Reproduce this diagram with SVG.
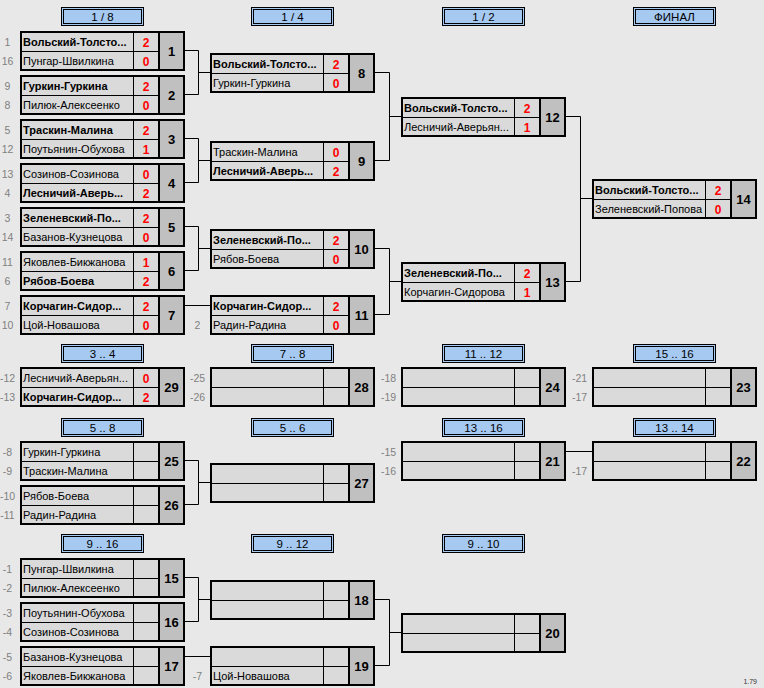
<svg xmlns="http://www.w3.org/2000/svg" xmlns:xlink="http://www.w3.org/1999/xlink" width="764" height="688" viewBox="0 0 764 688">
<style>
text{font-family:"Liberation Sans",Arial,sans-serif}
.n{font-size:11px;fill:#000}
.b{font-weight:bold}
.s{font-size:12px;font-weight:bold;fill:#ff0000;text-anchor:middle}
.m{font-size:13px;font-weight:bold;fill:#000;text-anchor:middle}
.l{font-size:10.5px;fill:#808080;text-anchor:middle}
.h{font-size:11.5px;fill:#000;text-anchor:middle}
.c{fill:none;stroke:#000;stroke-width:1}
</style>
<defs>
<g id="bx">
<rect x="1" y="1" width="163" height="38" fill="#dadada" stroke="#000" stroke-width="2"/>
<rect x="140" y="2" width="23" height="36" fill="#c0c0c0"/>
<line x1="139" y1="1" x2="139" y2="39" stroke="#000" stroke-width="2"/>
<line x1="113.5" y1="2" x2="113.5" y2="38" stroke="#000" stroke-width="1"/>
<line x1="2" y1="20.5" x2="138" y2="20.5" stroke="#000" stroke-width="1"/>
</g>
<g id="hd">
<rect x="0.5" y="0.5" width="82" height="18" fill="#a6c9f2" stroke="#000" stroke-width="1"/>
<rect x="2.5" y="2.5" width="78" height="14" fill="none" stroke="#000" stroke-width="1"/>
</g>
</defs>
<rect width="764" height="688" fill="#e8e8e8"/>

<g id="headers">
<g transform="translate(61,7)"><use xlink:href="#hd"/><text class="h" x="41.5" y="13.5">1 / 8</text></g>
<g transform="translate(251,7)"><use xlink:href="#hd"/><text class="h" x="41.5" y="13.5">1 / 4</text></g>
<g transform="translate(442,7)"><use xlink:href="#hd"/><text class="h" x="41.5" y="13.5">1 / 2</text></g>
<g transform="translate(633,7)"><use xlink:href="#hd"/><text class="h" x="41.5" y="13.5">ФИНАЛ</text></g>
<g transform="translate(61,344)"><use xlink:href="#hd"/><text class="h" x="41.5" y="13.5">3 .. 4</text></g>
<g transform="translate(251,344)"><use xlink:href="#hd"/><text class="h" x="41.5" y="13.5">7 .. 8</text></g>
<g transform="translate(442,344)"><use xlink:href="#hd"/><text class="h" x="41.5" y="13.5">11 .. 12</text></g>
<g transform="translate(633,344)"><use xlink:href="#hd"/><text class="h" x="41.5" y="13.5">15 .. 16</text></g>
<g transform="translate(61,418)"><use xlink:href="#hd"/><text class="h" x="41.5" y="13.5">5 .. 8</text></g>
<g transform="translate(251,418)"><use xlink:href="#hd"/><text class="h" x="41.5" y="13.5">5 .. 6</text></g>
<g transform="translate(442,418)"><use xlink:href="#hd"/><text class="h" x="41.5" y="13.5">13 .. 16</text></g>
<g transform="translate(633,418)"><use xlink:href="#hd"/><text class="h" x="41.5" y="13.5">13 .. 14</text></g>
<g transform="translate(61,534)"><use xlink:href="#hd"/><text class="h" x="41.5" y="13.5">9 .. 16</text></g>
<g transform="translate(251,534)"><use xlink:href="#hd"/><text class="h" x="41.5" y="13.5">9 .. 12</text></g>
<g transform="translate(442,534)"><use xlink:href="#hd"/><text class="h" x="41.5" y="13.5">9 .. 10</text></g>
</g>

<g id="connectors">
<path class="c" d="M185 50.5H198.5V94.5H185M198.5 72.5H210"/>
<path class="c" d="M185 138.5H198.5V182.5H185M198.5 160.5H210"/>
<path class="c" d="M185 226.5H198.5V270.5H185M198.5 248.5H210"/>
<path class="c" d="M185 305.5H210"/>
<path class="c" d="M375 72.5H389.5V160.5H375M389.5 116.5H401"/>
<path class="c" d="M375 248.5H389.5V314.5H375M389.5 281.5H401"/>
<path class="c" d="M566 116.5H580.5V281.5H566M580.5 198.5H592"/>
<path class="c" d="M185 460.5H198.5V504.5H185M198.5 482.5H210"/>
<path class="c" d="M566 451.5H592"/>
<path class="c" d="M185 577.5H198.5V621.5H185M198.5 599.5H210"/>
<path class="c" d="M185 656.5H210"/>
<path class="c" d="M375 599.5H389.5V665.5H375M389.5 632.5H401"/>
</g>

<g id="m1" transform="translate(20,31)"><use xlink:href="#bx"/>
<text class="l" x="-12.5" y="15">1</text><text class="l" x="-12.5" y="34">16</text>
<text class="n b" x="3" y="15">Вольский-Толсто...</text><text class="s" x="126" y="15.5">2</text>
<text class="n" x="3" y="34">Пунгар-Швилкина</text><text class="s" x="126" y="34.5">0</text>
<text class="m" x="151.5" y="25">1</text></g>

<g id="m2" transform="translate(20,75)"><use xlink:href="#bx"/>
<text class="l" x="-12.5" y="15">9</text><text class="l" x="-12.5" y="34">8</text>
<text class="n b" x="3" y="15">Гуркин-Гуркина</text><text class="s" x="126" y="15.5">2</text>
<text class="n" x="3" y="34">Пилюк-Алексеенко</text><text class="s" x="126" y="34.5">0</text>
<text class="m" x="151.5" y="25">2</text></g>

<g id="m3" transform="translate(20,119)"><use xlink:href="#bx"/>
<text class="l" x="-12.5" y="15">5</text><text class="l" x="-12.5" y="34">12</text>
<text class="n b" x="3" y="15">Траскин-Малина</text><text class="s" x="126" y="15.5">2</text>
<text class="n" x="3" y="34">Поутьянин-Обухова</text><text class="s" x="126" y="34.5">1</text>
<text class="m" x="151.5" y="25">3</text></g>

<g id="m4" transform="translate(20,163)"><use xlink:href="#bx"/>
<text class="l" x="-12.5" y="15">13</text><text class="l" x="-12.5" y="34">4</text>
<text class="n" x="3" y="15">Созинов-Созинова</text><text class="s" x="126" y="15.5">0</text>
<text class="n b" x="3" y="34">Лесничий-Аверь...</text><text class="s" x="126" y="34.5">2</text>
<text class="m" x="151.5" y="25">4</text></g>

<g id="m5" transform="translate(20,207)"><use xlink:href="#bx"/>
<text class="l" x="-12.5" y="15">3</text><text class="l" x="-12.5" y="34">14</text>
<text class="n b" x="3" y="15">Зеленевский-По...</text><text class="s" x="126" y="15.5">2</text>
<text class="n" x="3" y="34">Базанов-Кузнецова</text><text class="s" x="126" y="34.5">0</text>
<text class="m" x="151.5" y="25">5</text></g>

<g id="m6" transform="translate(20,251)"><use xlink:href="#bx"/>
<text class="l" x="-12.5" y="15">11</text><text class="l" x="-12.5" y="34">6</text>
<text class="n" x="3" y="15">Яковлев-Бикжанова</text><text class="s" x="126" y="15.5">1</text>
<text class="n b" x="3" y="34">Рябов-Боева</text><text class="s" x="126" y="34.5">2</text>
<text class="m" x="151.5" y="25">6</text></g>

<g id="m7" transform="translate(20,295)"><use xlink:href="#bx"/>
<text class="l" x="-12.5" y="15">7</text><text class="l" x="-12.5" y="34">10</text>
<text class="n b" x="3" y="15">Корчагин-Сидор...</text><text class="s" x="126" y="15.5">2</text>
<text class="n" x="3" y="34">Цой-Новашова</text><text class="s" x="126" y="34.5">0</text>
<text class="m" x="151.5" y="25">7</text></g>

<g id="m8" transform="translate(210,53)"><use xlink:href="#bx"/>
<text class="n b" x="3" y="15">Вольский-Толсто...</text><text class="s" x="126" y="15.5">2</text>
<text class="n" x="3" y="34">Гуркин-Гуркина</text><text class="s" x="126" y="34.5">0</text>
<text class="m" x="151.5" y="25">8</text></g>

<g id="m9" transform="translate(210,141)"><use xlink:href="#bx"/>
<text class="n" x="3" y="15">Траскин-Малина</text><text class="s" x="126" y="15.5">0</text>
<text class="n b" x="3" y="34">Лесничий-Аверь...</text><text class="s" x="126" y="34.5">2</text>
<text class="m" x="151.5" y="25">9</text></g>

<g id="m10" transform="translate(210,229)"><use xlink:href="#bx"/>
<text class="n b" x="3" y="15">Зеленевский-По...</text><text class="s" x="126" y="15.5">2</text>
<text class="n" x="3" y="34">Рябов-Боева</text><text class="s" x="126" y="34.5">0</text>
<text class="m" x="151.5" y="25">10</text></g>

<g id="m11" transform="translate(210,295)"><use xlink:href="#bx"/>
<text class="l" x="-12.5" y="34">2</text>
<text class="n b" x="3" y="15">Корчагин-Сидор...</text><text class="s" x="126" y="15.5">2</text>
<text class="n" x="3" y="34">Радин-Радина</text><text class="s" x="126" y="34.5">0</text>
<text class="m" x="151.5" y="25">11</text></g>

<g id="m12" transform="translate(401,97)"><use xlink:href="#bx"/>
<text class="n b" x="3" y="15">Вольский-Толсто...</text><text class="s" x="126" y="15.5">2</text>
<text class="n" x="3" y="34">Лесничий-Аверьян...</text><text class="s" x="126" y="34.5">1</text>
<text class="m" x="151.5" y="25">12</text></g>

<g id="m13" transform="translate(401,262)"><use xlink:href="#bx"/>
<text class="n b" x="3" y="15">Зеленевский-По...</text><text class="s" x="126" y="15.5">2</text>
<text class="n" x="3" y="34">Корчагин-Сидорова</text><text class="s" x="126" y="34.5">1</text>
<text class="m" x="151.5" y="25">13</text></g>

<g id="m14" transform="translate(592,179)"><use xlink:href="#bx"/>
<text class="n b" x="3" y="15">Вольский-Толсто...</text><text class="s" x="126" y="15.5">2</text>
<text class="n" x="3" y="34">Зеленевский-Попова</text><text class="s" x="126" y="34.5">0</text>
<text class="m" x="151.5" y="25">14</text></g>

<g id="m29" transform="translate(20,367)"><use xlink:href="#bx"/>
<text class="l" x="-12.5" y="15">-12</text><text class="l" x="-12.5" y="34">-13</text>
<text class="n" x="3" y="15">Лесничий-Аверьян...</text><text class="s" x="126" y="15.5">0</text>
<text class="n b" x="3" y="34">Корчагин-Сидор...</text><text class="s" x="126" y="34.5">2</text>
<text class="m" x="151.5" y="25">29</text></g>

<g id="m28" transform="translate(210,367)"><use xlink:href="#bx"/>
<text class="l" x="-12.5" y="15">-25</text><text class="l" x="-12.5" y="34">-26</text>
<text class="m" x="151.5" y="25">28</text></g>

<g id="m24" transform="translate(401,367)"><use xlink:href="#bx"/>
<text class="l" x="-12.5" y="15">-18</text><text class="l" x="-12.5" y="34">-19</text>
<text class="m" x="151.5" y="25">24</text></g>

<g id="m23" transform="translate(592,367)"><use xlink:href="#bx"/>
<text class="l" x="-12.5" y="15">-21</text><text class="l" x="-12.5" y="34">-17</text>
<text class="m" x="151.5" y="25">23</text></g>

<g id="m25" transform="translate(20,441)"><use xlink:href="#bx"/>
<text class="l" x="-12.5" y="15">-8</text><text class="l" x="-12.5" y="34">-9</text>
<text class="n" x="3" y="15">Гуркин-Гуркина</text>
<text class="n" x="3" y="34">Траскин-Малина</text>
<text class="m" x="151.5" y="25">25</text></g>

<g id="m26" transform="translate(20,485)"><use xlink:href="#bx"/>
<text class="l" x="-12.5" y="15">-10</text><text class="l" x="-12.5" y="34">-11</text>
<text class="n" x="3" y="15">Рябов-Боева</text>
<text class="n" x="3" y="34">Радин-Радина</text>
<text class="m" x="151.5" y="25">26</text></g>

<g id="m27" transform="translate(210,463)"><use xlink:href="#bx"/>
<text class="m" x="151.5" y="25">27</text></g>

<g id="m21" transform="translate(401,441)"><use xlink:href="#bx"/>
<text class="l" x="-12.5" y="15">-15</text><text class="l" x="-12.5" y="34">-16</text>
<text class="m" x="151.5" y="25">21</text></g>

<g id="m22" transform="translate(592,441)"><use xlink:href="#bx"/>
<text class="l" x="-12.5" y="34">-17</text>
<text class="m" x="151.5" y="25">22</text></g>

<g id="m15" transform="translate(20,558)"><use xlink:href="#bx"/>
<text class="l" x="-12.5" y="15">-1</text><text class="l" x="-12.5" y="34">-2</text>
<text class="n" x="3" y="15">Пунгар-Швилкина</text>
<text class="n" x="3" y="34">Пилюк-Алексеенко</text>
<text class="m" x="151.5" y="25">15</text></g>

<g id="m16" transform="translate(20,602)"><use xlink:href="#bx"/>
<text class="l" x="-12.5" y="15">-3</text><text class="l" x="-12.5" y="34">-4</text>
<text class="n" x="3" y="15">Поутьянин-Обухова</text>
<text class="n" x="3" y="34">Созинов-Созинова</text>
<text class="m" x="151.5" y="25">16</text></g>

<g id="m17" transform="translate(20,646)"><use xlink:href="#bx"/>
<text class="l" x="-12.5" y="15">-5</text><text class="l" x="-12.5" y="34">-6</text>
<text class="n" x="3" y="15">Базанов-Кузнецова</text>
<text class="n" x="3" y="34">Яковлев-Бикжанова</text>
<text class="m" x="151.5" y="25">17</text></g>

<g id="m18" transform="translate(210,580)"><use xlink:href="#bx"/>
<text class="m" x="151.5" y="25">18</text></g>

<g id="m19" transform="translate(210,646)"><use xlink:href="#bx"/>
<text class="l" x="-12.5" y="34">-7</text>
<text class="n" x="3" y="34">Цой-Новашова</text>
<text class="m" x="151.5" y="25">19</text></g>

<g id="m20" transform="translate(401,613)"><use xlink:href="#bx"/>
<text class="m" x="151.5" y="25">20</text></g>

<text x="757" y="684" style="font-size:7px;fill:#333;text-anchor:end">1.79</text>
</svg>
